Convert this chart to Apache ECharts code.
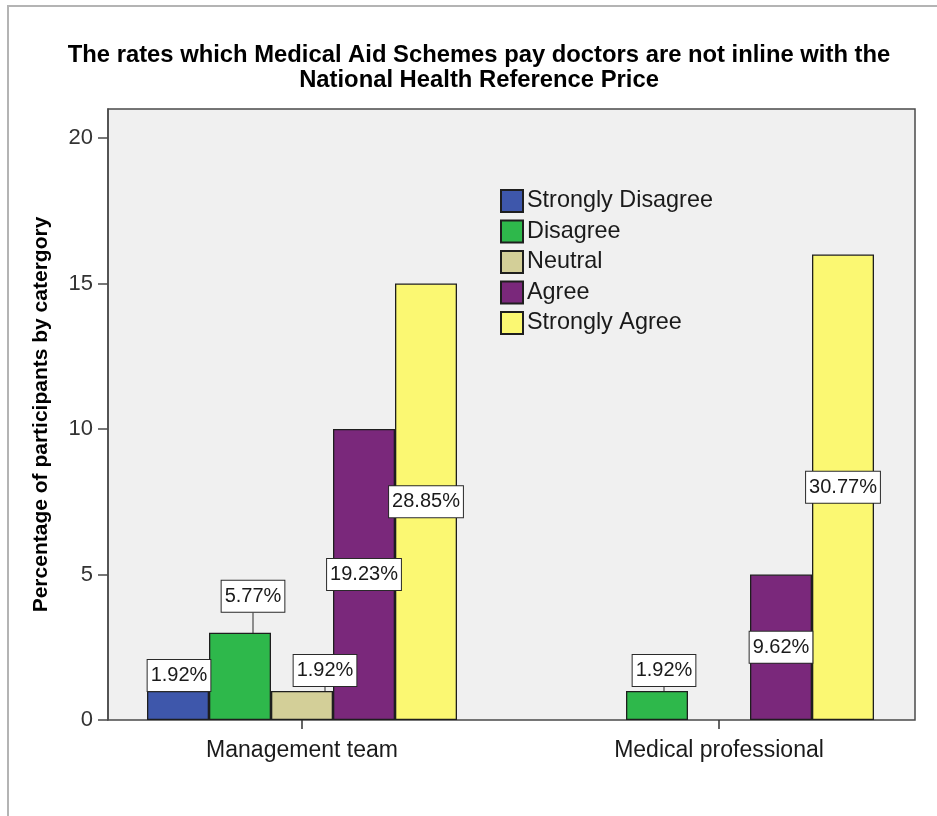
<!DOCTYPE html>
<html>
<head>
<meta charset="utf-8">
<script src="https://cdn.jsdelivr.net/npm/echarts@6/dist/echarts.min.js"></script>
<style>
  html, body { margin: 0; padding: 0; background: #ffffff; }
  #chart { width: 937px; height: 816px; }
</style>
</head>
<body>
<div id="chart"></div>
<script>
// ---- data ----
const categories = ['Management team', 'Medical professional'];
const seriesNames = ['Strongly Disagree', 'Disagree', 'Neutral', 'Agree', 'Strongly Agree'];
const stronglyDisagree = [1, null];
const disagree = [3, 1];
const neutral = [1, null];
const agree = [10, 5];
const stronglyAgree = [15, 16];
const pctStronglyDisagree = ['1.92%', null];
const pctDisagree = ['5.77%', '1.92%'];
const pctNeutral = ['1.92%', null];
const pctAgree = ['19.23%', '9.62%'];
const pctStronglyAgree = ['28.85%', '30.77%'];
const yTicks = [0, 5, 10, 15, 20];
const titleText = 'The rates which Medical Aid Schemes pay doctors are not inline with the\nNational Health Reference Price';
const yAxisTitle = 'Percentage of participants by catergory';

// ---- styles ----
const colors = ['#3E57AB', '#2EB84B', '#D3CF98', '#7A287B', '#FBF872'];
const FONT = '"Liberation Sans", Arial, sans-serif';
// labels drawn above their bar, moved by [dx, dy] (key: series-dataIndex)
const aboveMoves = { '0-0': [1, 0], '1-0': [13, -21], '2-0': [23, -5], '1-1': [7, -5] };

const allValues = [stronglyDisagree, disagree, neutral, agree, stronglyAgree];
const allPct = [pctStronglyDisagree, pctDisagree, pctNeutral, pctAgree, pctStronglyAgree];

const series = seriesNames.map((name, s) => ({
  name: name,
  type: 'bar',
  xAxisIndex: 1,
  yAxisIndex: 1,
  barWidth: 62,
  barGap: '0%',
  itemStyle: { color: colors[s], borderColor: '#1e1e1e', borderWidth: 1.3 },
  emphasis: { disabled: true },
  data: allValues[s].map((v, i) => {
    const key = s + '-' + i;
    const above = key in aboveMoves;
    return {
      value: v,
      label: {
        show: v != null,
        position: above ? 'top' : 'inside',
        distance: 0,
        formatter: () => allPct[s][i],
      },
      labelLine: { show: above }
    };
  }),
  label: {
    fontFamily: FONT,
    fontSize: 20,
    color: '#1a1a1a',
    backgroundColor: '#ffffff',
    borderColor: '#2a2a2a',
    borderWidth: 1,
    padding: [5, 3, 4, 3],
    lineHeight: 22
  },
  labelLine: { lineStyle: { color: '#2a2a2a', width: 1 }, length2: 0 },
  labelLayout: function (p) {
    const m = aboveMoves[p.seriesIndex + '-' + p.dataIndex];
    return m ? { dx: m[0], dy: m[1] } : {};
  }
}));

const chart = echarts.init(document.getElementById('chart'), null, { renderer: 'canvas' });
chart.setOption({
  animation: false,
  backgroundColor: '#ffffff',
  color: colors,
  graphic: [
    {
      type: 'rect', silent: true, z: -10,
      shape: { x: 8, y: 6, width: 1000, height: 1000 },
      style: { fill: '#ffffff', stroke: '#b4b4b4', lineWidth: 2 }
    },
    {
      type: 'text', silent: true,
      x: 479, y: 43,
      style: {
        text: titleText,
        fontFamily: FONT, fontSize: 23.8, fontWeight: 'bold',
        lineHeight: 25, fill: '#000000',
        align: 'center', verticalAlign: 'top'
      }
    }
  ],
  legend: {
    orient: 'vertical',
    left: 500, top: 189,
    padding: 0,
    itemWidth: 22, itemHeight: 22, itemGap: 6.5,
    icon: 'rect',
    selectedMode: false,
    textStyle: { fontFamily: FONT, fontSize: 23.4, lineHeight: 22, color: '#1a1a1a', padding: [2, 0, 0, -1] },
    data: seriesNames
  },
  grid: [
    { left: 108, right: 22, top: 109, bottom: 96, show: true, backgroundColor: '#F0F0F0', borderColor: '#4a4a4a', borderWidth: 1.5 },
    { left: 93.5, right: 9.5, top: 109, bottom: 96 }
  ],
  xAxis: [
    { type: 'category', gridIndex: 0, data: categories, show: false },
    {
      type: 'category', gridIndex: 1, data: categories,
      axisLine: { show: false },
      axisTick: { show: true, alignWithLabel: true, length: 9, lineStyle: { color: '#333', width: 1.5 } },
      axisLabel: { fontFamily: FONT, fontSize: 23, color: '#1a1a1a', margin: 19 }
    }
  ],
  yAxis: [
    {
      type: 'value', gridIndex: 0, min: 0, max: 21,
      name: yAxisTitle,
      nameLocation: 'middle',
      nameGap: 56,
      nameTextStyle: { fontFamily: FONT, fontSize: 21, fontWeight: 'bold', color: '#000' },
      axisLine: { show: true, lineStyle: { color: '#4a4a4a', width: 1.5 } },
      axisTick: { show: true, length: 10, customValues: yTicks, lineStyle: { color: '#4a4a4a', width: 1.5 } },
      axisLabel: { fontFamily: FONT, fontSize: 22, color: '#333', margin: 15, customValues: yTicks },
      splitLine: { show: false }
    },
    { type: 'value', gridIndex: 1, min: 0, max: 21, show: false, splitLine: { show: false } }
  ],
  series: series
});
</script>
</body>
</html>
